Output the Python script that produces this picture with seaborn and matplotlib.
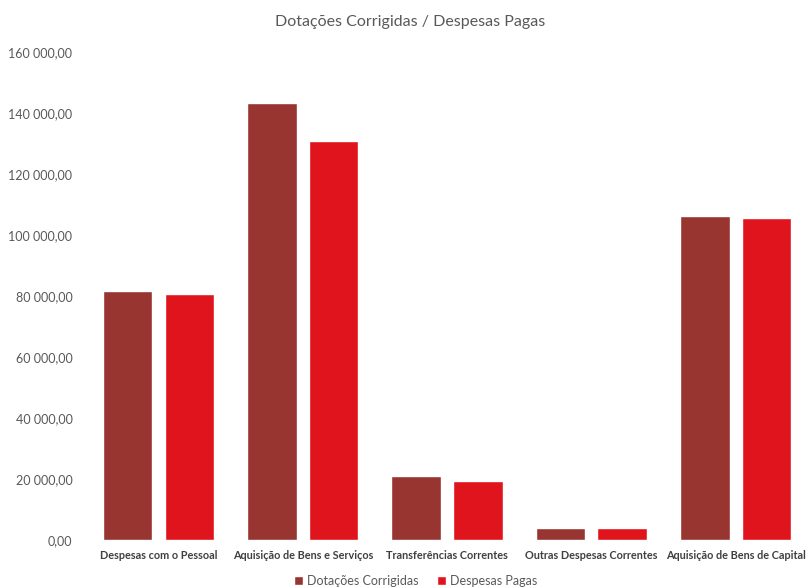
import matplotlib
matplotlib.use("Agg")
import matplotlib.pyplot as plt
import seaborn as sns
import pandas as pd
from matplotlib.ticker import FuncFormatter, MultipleLocator
from matplotlib.patches import Patch

categories = ["Despesas com o Pessoal", "Aquisição de Bens e Serviços",
              "Transferências Correntes", "Outras Despesas Correntes",
              "Aquisição de Bens de Capital"]
dotacoes = [81600, 143300, 21000, 3900, 106200]
pagas = [80700, 130800, 19300, 3800, 105600]
series_names = ["Dotações Corrigidas", "Despesas Pagas"]
colors = ["#983530", "#E0141C"]

df = pd.DataFrame({
    "categoria": categories * 2,
    "valor": dotacoes + pagas,
    "serie": [series_names[0]] * len(categories) + [series_names[1]] * len(categories),
})

sns.set_theme(style="white")
plt.rcParams["font.family"] = ["Lato", "DejaVu Sans"]

fig = plt.figure(figsize=(8.07, 5.88), dpi=100)
ax = fig.add_axes([0.107, 0.0816, 0.894, 0.830])

sns.barplot(data=df, x="categoria", y="valor", hue="serie", order=categories,
            hue_order=series_names, palette=colors, width=0.854, gap=0.195,
            saturation=1, errorbar=None, legend=False, ax=ax)

ax.set_xlim(-0.5, 4.5)
ax.set_ylim(0, 160000)
ax.yaxis.set_major_locator(MultipleLocator(20000))
ax.yaxis.set_major_formatter(FuncFormatter(
    lambda v, p: f"{v:,.2f}".replace(",", " ").replace(".", ",")))
for s in ax.spines.values():
    s.set_visible(False)
ax.grid(False)
ax.set_xlabel("")
ax.set_ylabel("")
ax.tick_params(axis="y", length=0, pad=10, labelsize=9, labelcolor="#595959")
ax.tick_params(axis="x", length=0, pad=7, labelsize=7.8, labelcolor="#404040")
for lbl in ax.get_xticklabels():
    lbl.set_fontweight("bold")

fig.text(0.508, 0.962, "Dotações Corrigidas / Despesas Pagas", ha="center",
         va="center", fontsize=11.5, color="#595959")

handles = [Patch(facecolor=c, label=n) for c, n in zip(colors, series_names)]
fig.legend(handles=handles, loc="center", bbox_to_anchor=(0.515, 0.012),
           ncol=2, frameon=False, fontsize=9, handlelength=0.7, handleheight=0.7,
           handletextpad=0.3, columnspacing=1.5, labelcolor="#595959")

fig.savefig("out.png", dpi=100)
